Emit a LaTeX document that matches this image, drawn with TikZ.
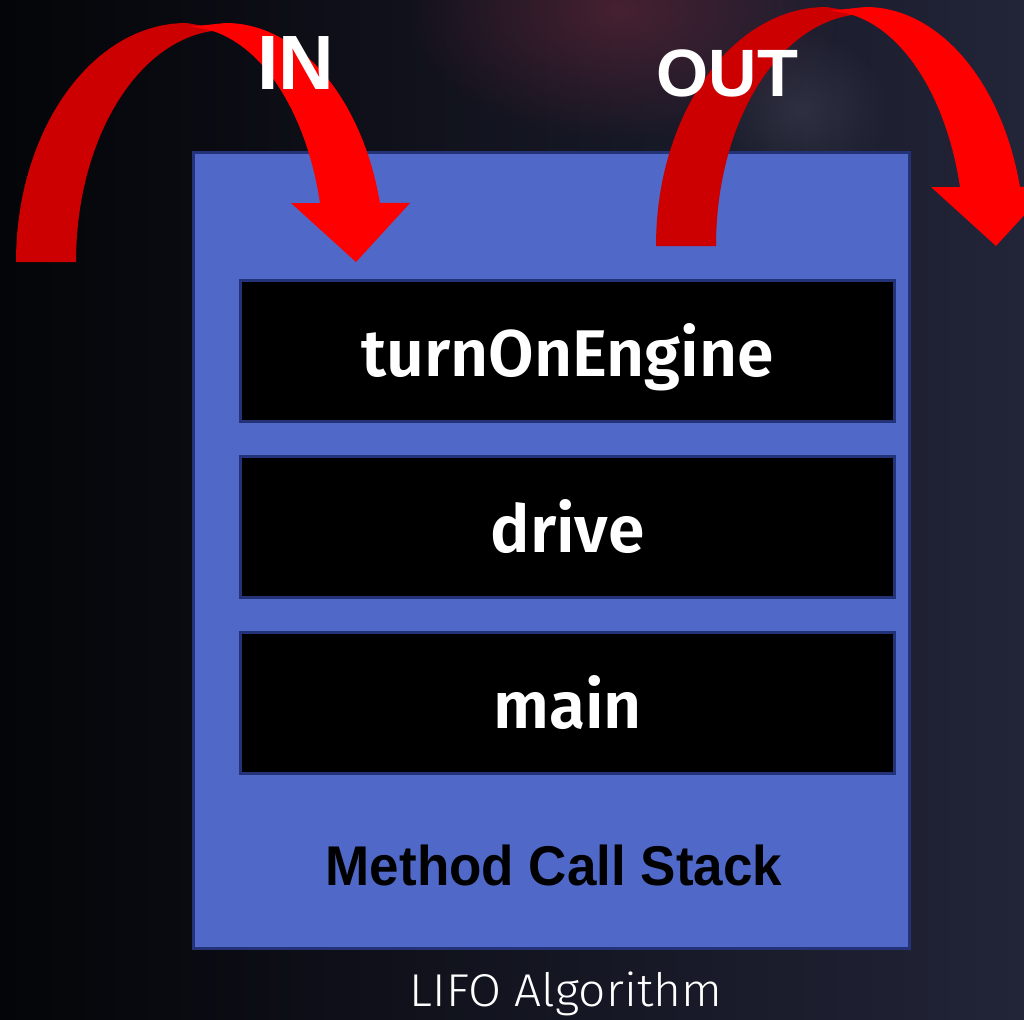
\documentclass[tikz,border=0pt]{standalone}
\usepackage{fontspec}
\newfontfamily\armfont{Liberation Sans}
\newfontfamily\stackfont{Fira Sans}[BoldFont={Fira Sans SemiBold}]
\newfontfamily\lightfont{Fira Sans Light}
\usetikzlibrary{fadings}
\tikzfading[name=glowfade, inner color=transparent!0, outer color=transparent!100]
\definecolor{bgleft}{RGB}{4,5,8}
\definecolor{bgright}{RGB}{34,36,56}
\definecolor{glowred}{RGB}{110,40,60}
\definecolor{glowgrey}{RGB}{70,72,90}
\definecolor{stackblue}{RGB}{80,104,200}
\definecolor{stackedge}{RGB}{36,50,120}
\definecolor{arrowdark}{RGB}{204,0,0}
\definecolor{arrowbright}{RGB}{255,0,0}
\tikzset{
  stackbox/.style={draw=stackedge, line width=3pt, fill=stackblue,
    minimum width=716pt, minimum height=796pt, inner sep=0pt},
  framebox/.style={draw=stackedge, line width=3pt, fill=black,
    minimum width=654pt, minimum height=141pt, inner sep=0pt, text=white,
    font=\stackfont\bfseries\fontsize{66}{70}\selectfont,
    text height=50pt, text depth=0pt},
  armlabel/.style={text=white, inner sep=0pt, anchor=base},
  curvedarrow/.pic={
    \fill[arrowdark] (16,262) arc[start angle=180, end angle=270, x radius=170.5, y radius=239]
      -- (226.4,30) arc[start angle=270, end angle=180, x radius=150.4, y radius=232] -- cycle;
    \fill[arrowbright] (225.5,23) arc[start angle=270, end angle=345.7, x radius=159.4, y radius=239]
      -- (410,203) -- (356,262) -- (291,203) -- (320,203)
      arc[start angle=345.46, end angle=270, x radius=137, y radius=235] -- cycle;
  }
}
\begin{document}
\begin{tikzpicture}[x=1pt, y=-1pt]
\useasboundingbox (0,0) rectangle (1024,1019);
\clip (0,0) rectangle (1024,1019);
% background
\shade[left color=bgleft, right color=bgright] (0,0) rectangle (1024,1019);
\fill[glowred, opacity=0.55, path fading=glowfade] (620,10) ellipse [x radius=220, y radius=130];
\fill[glowgrey, opacity=0.45, path fading=glowfade] (800,110) ellipse [x radius=90, y radius=80];
% stack
\node[stackbox] (stack) at (551.5,550.5) {};
\node[framebox] (top) at (567.5,351) {turnOnEngine};
\node[framebox] (mid) at (567.5,527) {drive};
\node[framebox] (bot) at (567.5,703) {main};
\node[inner sep=0pt, anchor=base, font=\armfont\bfseries\fontsize{56}{60}\selectfont]
  (title) at (554,885) {\scalebox{0.946}[1]{Method Call Stack}};
% arrows
\pic at (0,0) {curvedarrow};
\pic at (640,-16) {curvedarrow};
\node[armlabel, font=\armfont\bfseries\fontsize{77}{80}\selectfont] (in) at (296,90) {IN};
\node[armlabel, font=\armfont\bfseries\fontsize{67}{70}\selectfont] (out) at (727.5,97) {OUT};
\node[armlabel, font=\lightfont\fontsize{46}{50}\selectfont] (lifo) at (566,1006)
  {\scalebox{1.04}[1]{LIFO Algorithm}};
\end{tikzpicture}
\end{document}
